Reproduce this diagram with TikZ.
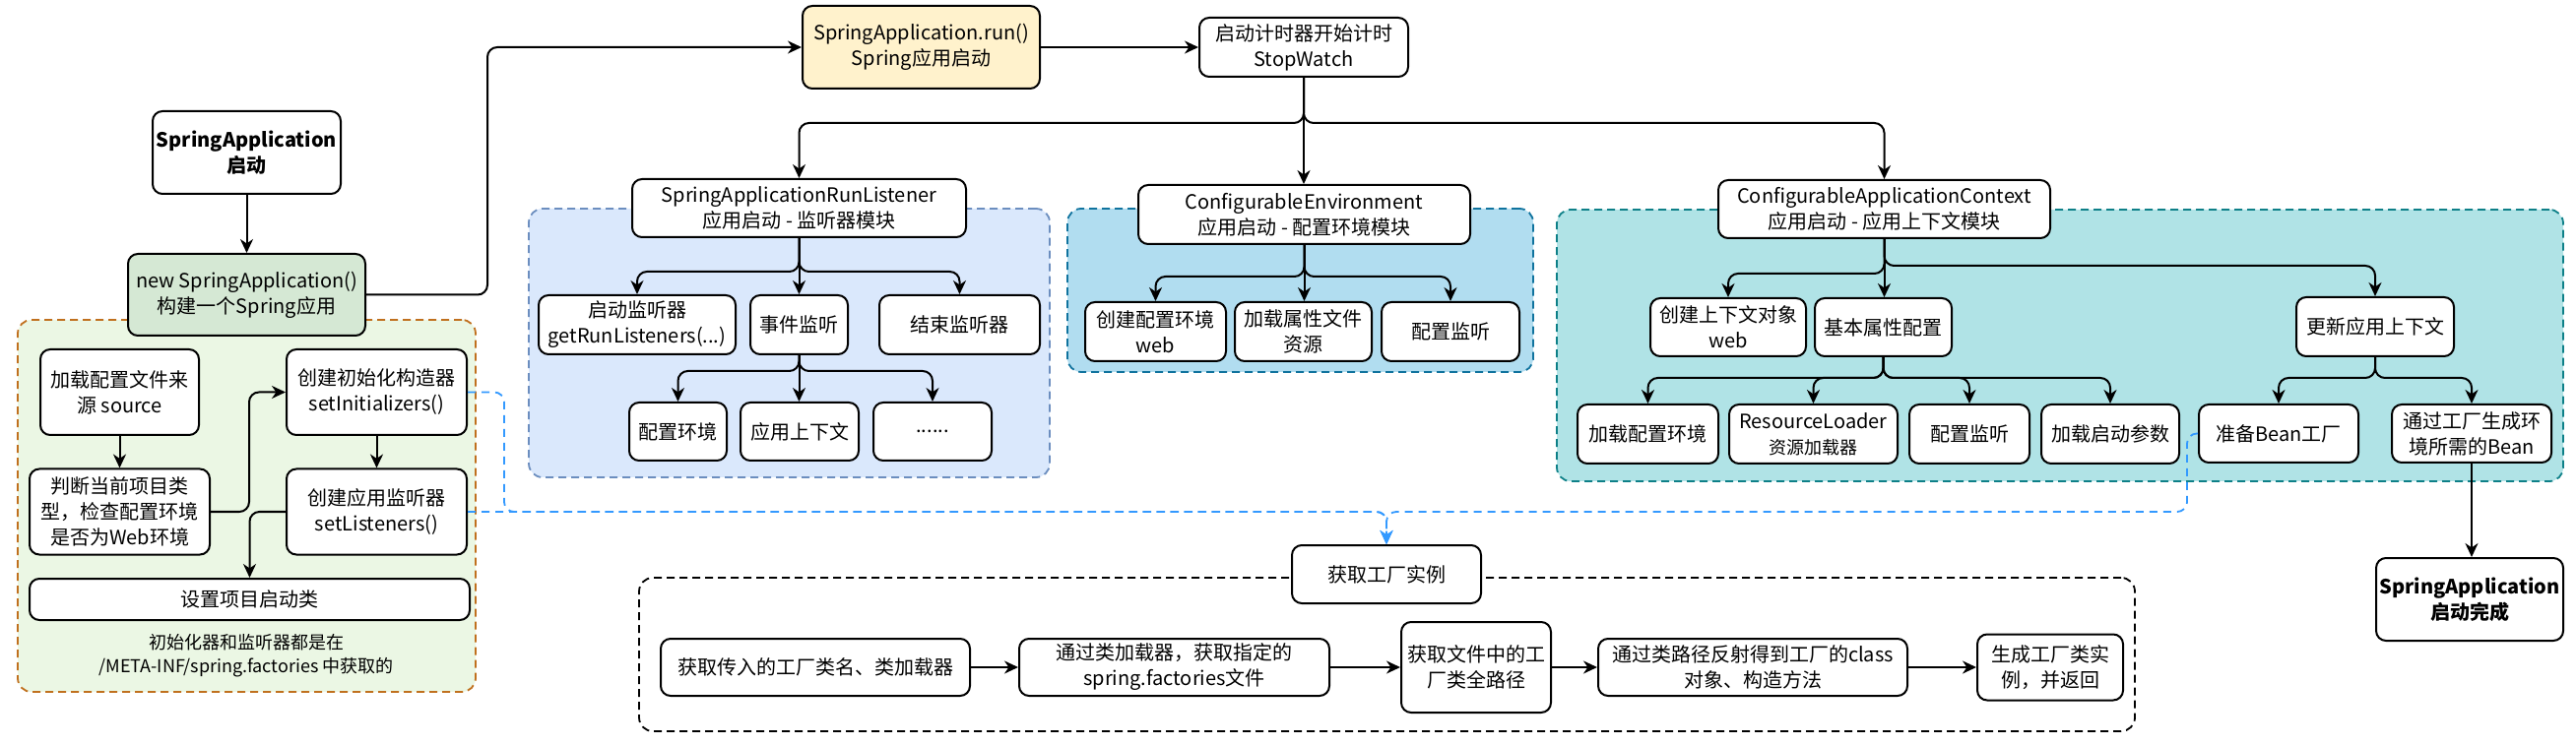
\documentclass[tikz,border=0pt]{standalone}
\usepackage{fontspec}
\setmainfont{Noto Sans CJK SC}
\usetikzlibrary{arrows.meta}
\definecolor{gfill}{HTML}{EBF7E4}
\definecolor{gline}{HTML}{C0701E}
\definecolor{newfill}{HTML}{D5E8D4}
\definecolor{runfill}{HTML}{FFF2CC}
\definecolor{rlfill}{HTML}{DAE8FC}
\definecolor{rlline}{HTML}{6C8EBF}
\definecolor{envfill}{HTML}{B1DDF0}
\definecolor{envline}{HTML}{10739E}
\definecolor{ctxfill}{HTML}{B0E3E6}
\definecolor{ctxline}{HTML}{0E8088}
\definecolor{bluec}{HTML}{3399FF}
\tikzset{
  box/.style={draw=black, line width=1pt, rounded corners=5pt, fill=white, align=center,
    inner sep=0pt, font=\fontsize{10}{13}\selectfont, text=black},
  grp/.style={rounded corners=7pt, line width=0.9pt, dash pattern=on 4pt off 2.5pt, inner sep=0pt},
  arr/.style={draw=black, line width=1pt, rounded corners=5pt,
    -{Stealth[length=7pt,width=6.5pt,inset=2.2pt]}},
  bluearr/.style={draw=bluec, line width=0.9pt, rounded corners=5pt, dash pattern=on 4pt off 3pt,
    -{Stealth[length=7pt,width=6.5pt,inset=2.2pt]}},
}
\begin{document}
\begin{tikzpicture}[x=0.5pt,y=-0.5pt]
\useasboundingbox (0,0) rectangle (2616,758);

% ---------- containers ----------
\node[grp, draw=gline, fill=gfill, minimum width=232.5pt, minimum height=189pt] (gA) at (250.5,514) {};
\node[grp, draw=rlline, fill=rlfill, minimum width=264.5pt, minimum height=136.5pt] (gB) at (801.5,348.5) {};
\node[grp, draw=envline, fill=envfill, minimum width=236.5pt, minimum height=83pt] (gC) at (1320.5,295) {};
\node[grp, draw=ctxline, fill=ctxfill, minimum width=511pt, minimum height=138pt] (gD) at (2092,351) {};
\node[grp, draw=black, minimum width=759.5pt, minimum height=78pt] (gE) at (1408.5,665) {};

% ---------- left part ----------
\node[box, font=\fontsize{10}{13}\selectfont\bfseries, minimum width=95.5pt, minimum height=42pt] (start) at (250.5,155) {SpringApplication\\启动};
\node[box, fill=newfill, minimum width=120.5pt, minimum height=41.5pt] (newapp) at (250.5,299.5) {new SpringApplication()\\构建一个Spring应用};
\node[box, minimum width=80.5pt, minimum height=43.5pt] (src) at (121.5,398.5) {加载配置文件来\\源 source};
\node[box, minimum width=91.5pt, minimum height=43.5pt] (judge) at (121.5,520) {判断当前项目类\\型，检查配置环境\\是否为Web环境};
\node[box, minimum width=91.5pt, minimum height=43.5pt] (init) at (382.5,398.5) {创建初始化构造器\\setInitializers()};
\node[box, minimum width=91.5pt, minimum height=43.5pt] (lis) at (382.5,520) {创建应用监听器\\setListeners()};
\node[box, minimum width=223.5pt, minimum height=21pt] (mainc) at (253.5,609) {设置项目启动类};
\node[align=center, font=\fontsize{9}{12}\selectfont, inner sep=0pt] (note) at (250,666) {初始化器和监听器都是在\\/META-INF/spring.factories 中获取的};

% ---------- top row ----------
\node[box, fill=runfill, minimum width=120.5pt, minimum height=42pt] (run) at (935.5,48) {SpringApplication.run()\\Spring应用启动};
\node[box, minimum width=106pt, minimum height=30pt] (sw) at (1324,48) {启动计时器开始计时\\StopWatch};

% ---------- run listener module ----------
\node[box, minimum width=169.5pt, minimum height=29.5pt] (rl) at (811.5,211.5) {SpringApplicationRunListener\\应用启动 - 监听器模块};
\node[box, minimum width=100pt, minimum height=30pt] (rl1) at (647,330) {启动监听器\\getRunListeners(...)};
\node[box, minimum width=49.5pt, minimum height=30pt] (rl2) at (811.5,330) {事件监听};
\node[box, minimum width=81.5pt, minimum height=30pt] (rl3) at (974.5,330) {结束监听器};
\node[box, minimum width=49.5pt, minimum height=29.5pt] (ev1) at (688.5,438.5) {配置环境};
\node[box, minimum width=60pt, minimum height=29.5pt] (ev2) at (812,438.5) {应用上下文};
\node[box, minimum width=60pt, minimum height=29.5pt] (ev3) at (947,438.5) {......};

% ---------- environment module ----------
\node[box, minimum width=168.5pt, minimum height=30pt] (env) at (1324.5,218) {ConfigurableEnvironment\\应用启动 - 配置环境模块};
\node[box, minimum width=71.5pt, minimum height=30pt] (env1) at (1173.5,337) {创建配置环境\\web};
\node[box, minimum width=69.5pt, minimum height=30pt] (env2) at (1323.5,337) {加载属性文件\\资源};
\node[box, minimum width=70pt, minimum height=30pt] (env3) at (1473,337) {配置监听};

% ---------- context module ----------
\node[box, minimum width=168.5pt, minimum height=29.5pt] (ctx) at (1913.5,212.5) {ConfigurableApplicationContext\\应用启动 - 应用上下文模块};
\node[box, minimum width=79pt, minimum height=29.5pt] (ctx1) at (1755,332.5) {创建上下文对象\\web};
\node[box, minimum width=69.5pt, minimum height=29.5pt] (ctx2) at (1912.5,332.5) {基本属性配置};
\node[box, minimum width=80pt, minimum height=30pt] (ctx3) at (2412,332) {更新应用上下文};
\node[box, minimum width=71.5pt, minimum height=30pt] (b1) at (1673.5,441) {加载配置环境};
\node[box, minimum width=85.5pt, minimum height=30pt] (b2) at (1841.5,441) {ResourceLoader\\{\fontsize{9}{12}\selectfont 资源加载器}};
\node[box, minimum width=61pt, minimum height=30pt] (b3) at (2000,441) {配置监听};
\node[box, minimum width=70pt, minimum height=30pt] (b4) at (2143,441) {加载启动参数};
\node[box, minimum width=81pt, minimum height=29.5pt] (u1) at (2314,440.5) {准备Bean工厂};
\node[box, minimum width=81pt, minimum height=29.5pt] (u2) at (2510,440.5) {通过工厂生成环\\境所需的Bean};
\node[box, font=\fontsize{10}{13}\selectfont\bfseries, minimum width=95pt, minimum height=42pt] (done) at (2508,609) {SpringApplication\\启动完成};

% ---------- factory part ----------
\node[box, minimum width=96pt, minimum height=29.5pt] (fac) at (1408,583.5) {获取工厂实例};
\node[box, minimum width=157pt, minimum height=29pt] (f1) at (828,678) {获取传入的工厂类名、类加载器};
\node[box, minimum width=157.5pt, minimum height=29pt] (f2) at (1192.5,678) {通过类加载器，获取指定的\\spring.factories文件};
\node[box, minimum width=76pt, minimum height=46pt] (f3) at (1499,678) {获取文件中的工\\厂类全路径};
\node[box, minimum width=157pt, minimum height=29pt] (f4) at (1780,678) {通过类路径反射得到工厂的class\\对象、构造方法};
\node[box, minimum width=74pt, minimum height=33.5pt] (f5) at (2082,678) {生成工厂类实\\例，并返回};

% ---------- connectors ----------
\draw[arr] (start) -- (newapp);
\draw[arr] (newapp.east) -- (495,299.5) -- (495,48) -- (run.west);
\draw[arr] (run) -- (sw);
\draw[arr] (sw.south) -- ++(0,46) -| (rl.north);
\draw[arr] (sw.south) -- (sw.south |- env.north);
\draw[arr] (sw.south) -- ++(0,46) -| (ctx.north);

\draw[arr] (rl.south) -- ++(0,34) -| (rl1.north);
\draw[arr] (rl.south) -- (rl.south |- rl2.north);
\draw[arr] (rl.south) -- ++(0,34) -| (rl3.north);
\draw[arr] (rl2.south) -- ++(0,16) -| (ev1.north);
\draw[arr] (rl2.south) -- (rl2.south |- ev2.north);
\draw[arr] (rl2.south) -- ++(0,16) -| (ev3.north);

\draw[arr] (env.south) -- ++(0,32) -| (env1.north);
\draw[arr] (env.south) -- (env.south |- env2.north);
\draw[arr] (env.south) -- ++(0,32) -| (env3.north);

\draw[arr] (ctx.south) -- ++(0,35) -| (ctx1.north);
\draw[arr] (ctx.south) -- (ctx.south |- ctx2.north);
\draw[arr] (ctx.south) -- ++(0,27) -| (ctx3.north);
\draw[arr] (ctx2.south) -- ++(0,21) -| (b1.north);
\draw[arr] (ctx2.south) -- ++(0,21) -| (b2.north);
\draw[arr] (ctx2.south) -- ++(0,21) -| (b3.north);
\draw[arr] (ctx2.south) -- ++(0,21) -| (b4.north);
\draw[arr] (ctx3.south) -- ++(0,21) -| (u1.north);
\draw[arr] (ctx3.south) -- ++(0,21) -| (u2.north);
\draw[arr] (u2.south) -- (u2.south |- done.north);

\draw[arr] (src) -- (judge);
\draw[arr] (judge.east) -- ++(39,0) |- (init.west);
\draw[arr] (init) -- (lis);
\draw[arr] (lis.west) -| (mainc.north);

\draw[arr] (f1) -- (f2);
\draw[arr] (f2) -- (f3);
\draw[arr] (f3) -- (f4);
\draw[arr] (f4) -- (f5);

\coordinate (hub) at (1408,520);
\draw[bluearr] (init.east) -- ++(37,0) |- (hub) -- (fac.north);
\draw[bluearr] (lis.east) -- (hub) -- (fac.north);
\draw[bluearr] (u1.west) -- ++(-11,0) |- (hub) -- (fac.north);
\end{tikzpicture}
\end{document}
